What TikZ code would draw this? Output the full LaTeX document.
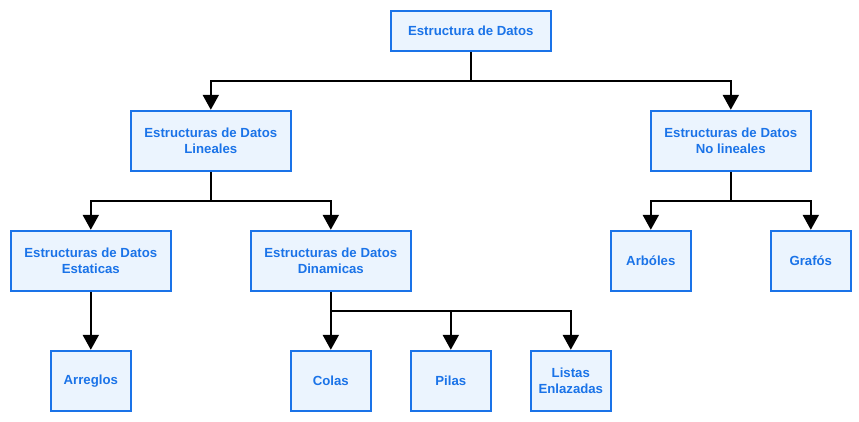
\documentclass[tikz,border=0pt]{standalone}
\usepackage{fontspec}
\setmainfont{Liberation Sans}
\usetikzlibrary{arrows.meta}
\definecolor{boxfill}{HTML}{EBF4FE}
\definecolor{boxline}{HTML}{1A73E8}
\begin{document}
\begin{tikzpicture}[x=1pt,y=-1pt,
  box/.style={draw=boxline,fill=boxfill,line width=2pt,inner sep=0pt,
    font=\fontsize{13.2}{16}\selectfont\bfseries,text=boxline,align=center},
  conn/.style={line width=2pt,-{Triangle[width=16pt,length=15pt]}},
  plain/.style={line width=2pt}]
\useasboundingbox (-0.8,-0.8) rectangle (858.2,420.2);
\node[box,minimum width=160,minimum height=40] (root) at (470,30) {Estructura de Datos};
\node[box,minimum width=160,minimum height=60] (lin) at (210,140) {Estructuras de Datos\\Lineales};
\node[box,minimum width=160,minimum height=60] (nolin) at (730,140) {Estructuras de Datos\\No lineales};
\node[box,minimum width=160,minimum height=60] (est) at (90,260) {Estructuras de Datos\\Estaticas};
\node[box,minimum width=160,minimum height=60] (din) at (330,260) {Estructuras de Datos\\Dinamicas};
\node[box,minimum width=80,minimum height=60] (arb) at (650,260) {Arbóles};
\node[box,minimum width=80,minimum height=60] (gra) at (810,260) {Grafós};
\node[box,minimum width=80,minimum height=60] (arr) at (90,380) {Arreglos};
\node[box,minimum width=80,minimum height=60] (col) at (330,380) {Colas};
\node[box,minimum width=80,minimum height=60] (pil) at (450,380) {Pilas};
\node[box,minimum width=80,minimum height=60] (lis) at (570,380) {Listas\\Enlazadas};
\coordinate (j1) at (470,80);
\coordinate (j2) at (210,200);
\coordinate (j3) at (730,200);
\coordinate (j4) at (330,310);
\draw[plain] (root.south) -- (j1);
\draw[conn] (j1) -| (lin.north);
\draw[conn] (j1) -| (nolin.north);
\draw[plain] (lin.south) -- (j2);
\draw[conn] (j2) -| (est.north);
\draw[conn] (j2) -| (din.north);
\draw[plain] (nolin.south) -- (j3);
\draw[conn] (j3) -| (arb.north);
\draw[conn] (j3) -| (gra.north);
\draw[conn] (est.south) -- (arr.north);
\draw[plain] (din.south) -- (j4);
\draw[conn] (j4) -- (col.north);
\draw[conn] (j4) -| (pil.north);
\draw[conn] (j4) -| (lis.north);
\end{tikzpicture}
\end{document}
